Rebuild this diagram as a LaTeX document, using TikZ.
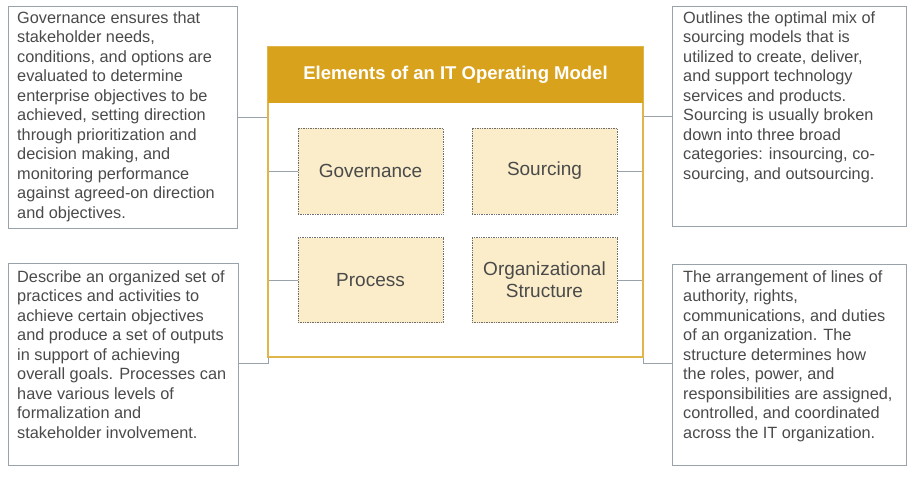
\documentclass[tikz,border=0pt]{standalone}
\usepackage{fontspec}
\setmainfont{Liberation Sans}
\definecolor{gold}{HTML}{D8A21C}
\definecolor{pale}{HTML}{FBEDCA}
\definecolor{edge}{HTML}{9AA3AA}
\definecolor{txt}{HTML}{4A4A4A}
\begin{document}
\begin{tikzpicture}[x=1pt,y=-1pt,
  desc/.style={draw=edge,line width=0.8pt,inner sep=0pt},
  elem/.style={draw=txt!80,densely dotted,fill=pale,line width=0.7pt},
  lab/.style={text=txt,font=\fontsize{19}{22}\selectfont,align=center},
  dtext/.style={text=txt,font=\fontsize{16.3}{19.5}\selectfont,align=left,anchor=north west,inner sep=0pt},
  conn/.style={draw=edge,line width=0.8pt}]
\useasboundingbox (0,0) rectangle (913,479);
% description boxes
\draw[desc] (8,6) rectangle (237,228);
\draw[desc] (8,263) rectangle (238,465);
\draw[desc] (672,6) rectangle (906,226);
\draw[desc] (672,264) rectangle (906,465);
\node[dtext] (tl) at (17,11) {Governance ensures that\\stakeholder needs,\\conditions, and options are\\evaluated to determine\\enterprise objectives to be\\achieved, setting direction\\through prioritization and\\decision making, and\\monitoring performance\\against agreed-on direction\\and objectives.};
\node[dtext] (bl) at (17,270) {Describe an organized set of\\practices and activities to\\achieve certain objectives\\and produce a set of outputs\\in support of achieving\\overall goals. Processes can\\have various levels of\\formalization and\\stakeholder involvement.};
\node[dtext] (tr) at (683,11) {Outlines the optimal mix of\\sourcing models that is\\utilized to create, deliver,\\and support technology\\services and products.\\Sourcing is usually broken\\down into three broad\\categories: insourcing, co-\\sourcing, and outsourcing.};
\node[dtext] (br) at (683,270) {The arrangement of lines of\\authority, rights,\\communications, and duties\\of an organization. The\\structure determines how\\the roles, power, and\\responsibilities are assigned,\\controlled, and coordinated\\across the IT organization.};
% connectors
\draw[conn] (298,171) -- (268,171) -- (268,117) -- (237,117);
\draw[conn] (617,171) -- (643,171) -- (643,116) -- (672,116);
\draw[conn] (298,280) -- (268,280) -- (268,363) -- (238,363);
\draw[conn] (617,280) -- (643,280) -- (643,363) -- (672,363);
% outer box
\draw[draw=gold!80,line width=1.2pt] (268,47) rectangle (643,357);
\fill[gold] (268,47) rectangle (643,103);
\node[text=white,font=\bfseries\fontsize{18.5}{22}\selectfont] (title) at (455.5,75) {Elements of an IT Operating Model};
% elements
\node[elem,lab,minimum width=145pt,minimum height=86pt] (gov) at (370.5,171) {Governance};
\node[elem,lab,minimum width=145pt,minimum height=86pt] (src) at (544.5,171) {Sourcing};
\node[elem,lab,minimum width=145pt,minimum height=85pt] (proc) at (370.5,280) {Process};
\node[elem,lab,minimum width=145pt,minimum height=85pt] (org) at (544.5,280) {Organizational\\Structure};
\end{tikzpicture}
\end{document}
